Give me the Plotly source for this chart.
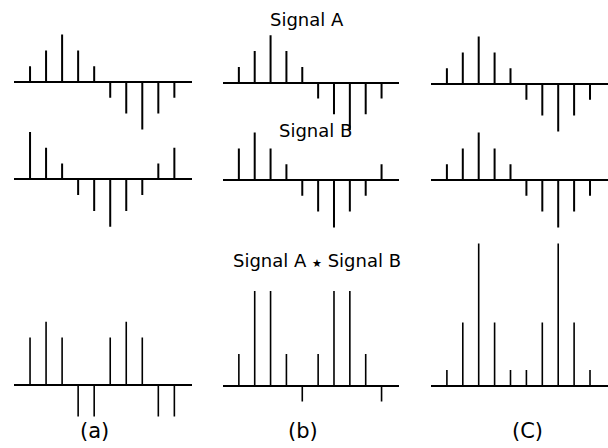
import plotly.graph_objects as go

# ---- data ----
n_index = list(range(10))

signal_a_a = [1, 2, 3, 2, 1, -1, -2, -3, -2, -1]
signal_b_a = [3, 2, 1, -1, -2, -3, -2, -1, 1, 2]
product_a = [3, 4, 3, -2, -2, 3, 4, 3, -2, -2]

signal_a_b = [1, 2, 3, 2, 1, -1, -2, -3, -2, -1]
signal_b_b = [2, 3, 2, 1, -1, -2, -3, -2, -1, 1]
product_b = [2, 6, 6, 2, -1, 2, 6, 6, 2, -1]

signal_a_c = [1, 2, 3, 2, 1, -1, -2, -3, -2, -1]
signal_b_c = [1, 2, 3, 2, 1, -1, -2, -3, -2, -1]
product_c = [1, 4, 9, 4, 1, 1, 4, 9, 4, 1]

row_titles = ["Signal A", "Signal B",
              "Signal A <span style='font-size:11px'>\u2605</span> Signal B"]
col_labels = ["(a)", "(b)", "(C)"]

# ---- layout helpers (pixel geometry) ----
W, H = 608, 448
U = 15.8  # pixels per unit
col_px = [(14, 192), (223, 399), (431, 607.5)]
row_ranges = [(-3.3, 3.3), (-3.3, 3.3), (-2.5, 9.5)]
baselines = [[82, 82.7, 84], [179.3, 180, 180], [385, 385.7, 385.7]]
line_w = [2, 2, 1.6]

grid = [
    [signal_a_a, signal_a_b, signal_a_c],
    [signal_b_a, signal_b_b, signal_b_c],
    [product_a, product_b, product_c],
]

fig = go.Figure()
layout = dict(
    width=W, height=H, margin=dict(l=0, r=0, t=0, b=0),
    paper_bgcolor="white", plot_bgcolor="rgba(0,0,0,0)", showlegend=False,
)

k = 0
for r in range(3):
    for c in range(3):
        k += 1
        vals = grid[r][c]
        xs, ys = [], []
        for i, v in zip(n_index, vals):
            xs += [i, i, None]
            ys += [0, v, None]
        xa = "x" if k == 1 else f"x{k}"
        ya = "y" if k == 1 else f"y{k}"
        fig.add_trace(go.Scatter(x=xs, y=ys, mode="lines",
                                 line=dict(color="black", width=line_w[r]),
                                 xaxis=xa, yaxis=ya, hoverinfo="skip"))
        lo, hi = row_ranges[r]
        base = baselines[r][c]
        top_px = base - hi * U
        bot_px = base - lo * U
        x0, x1 = col_px[c]
        xname = "xaxis" if k == 1 else f"xaxis{k}"
        yname = "yaxis" if k == 1 else f"yaxis{k}"
        layout[xname] = dict(domain=[x0 / W, x1 / W], range=[-1, 10.1],
                             showgrid=False, zeroline=False, showticklabels=False,
                             showline=False, ticks="", anchor=ya,
                             fixedrange=True)
        layout[yname] = dict(domain=[1 - bot_px / H, 1 - top_px / H], range=[lo, hi],
                             showgrid=False, zeroline=True, zerolinecolor="black",
                             zerolinewidth=2, showticklabels=False, showline=False,
                             ticks="", anchor=xa, fixedrange=True)

font_family = "DejaVu Sans, Arial, sans-serif"
annotations = []
title_pos = [(307, 19), (315, 130), (316.5, 260)]
for t, (px, py) in zip(row_titles, title_pos):
    annotations.append(dict(text=t, x=px / W, y=1 - py / H, xref="paper", yref="paper",
                            xanchor="center", yanchor="middle", showarrow=False,
                            font=dict(family=font_family, size=18, color="black")))
label_pos = [(94, 431), (303, 431), (527, 431)]
for t, (px, py) in zip(col_labels, label_pos):
    annotations.append(dict(text=t, x=px / W, y=1 - py / H, xref="paper", yref="paper",
                            xanchor="center", yanchor="middle", showarrow=False,
                            font=dict(family=font_family, size=21, color="black")))
layout["annotations"] = annotations

fig.update_layout(**layout)
fig.write_html("out.html",
               config={"displayModeBar": False, "staticPlot": True},
               post_script="document.body.style.margin='0';document.body.style.overflow='hidden';")
